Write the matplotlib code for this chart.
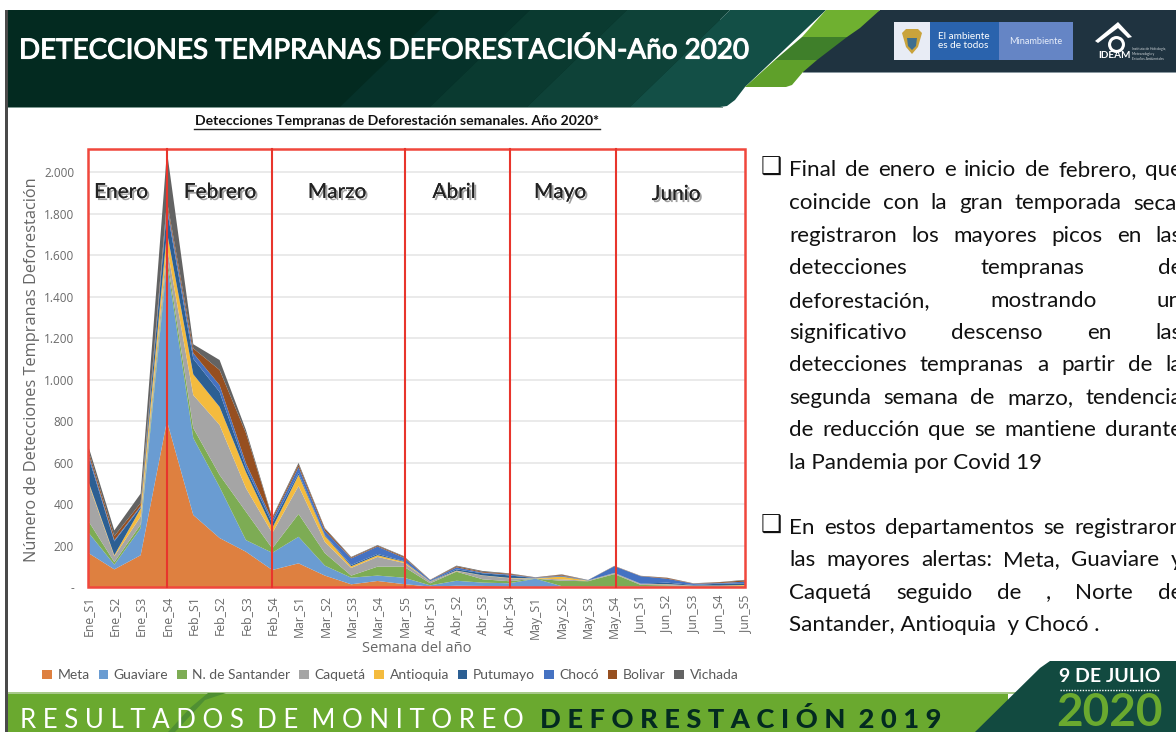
"""Detecciones tempranas de deforestacion, slide with stacked area chart."""

import matplotlib

matplotlib.use("Agg", force=True)
import matplotlib.patheffects as pe
import matplotlib.pyplot as plt
from matplotlib.patches import Polygon, Rectangle

weeks = [
    "Ene_S1", "Ene_S2", "Ene_S3", "Ene_S4",
    "Feb_S1", "Feb_S2", "Feb_S3", "Feb_S4",
    "Mar_S1", "Mar_S2", "Mar_S3", "Mar_S4", "Mar_S5",
    "Abr_S1", "Abr_S2", "Abr_S3", "Abr_S4",
    "May_S1", "May_S2", "May_S3", "May_S4",
    "Jun_S1", "Jun_S2", "Jun_S3", "Jun_S4", "Jun_S5",
]
meta = [165, 85, 153, 800, 347, 236, 170, 82, 114, 55, 13, 29, 14, 2, 6, 5, 3, 1, 2, 1, 2, 1, 1, 1, 1, 1]
guaviare = [100, 23, 130, 760, 371, 246, 56, 83, 128, 48, 32, 26, 31, 6, 24, 16, 15, 39, 2, 2, 1, 2, 1, 1, 1, 2]
santander = [56, 12, 17, 30, 48, 58, 137, 21, 110, 60, 10, 43, 53, 10, 44, 16, 10, 0, 26, 25, 59, 7, 6, 2, 2, 2]
caqueta = [185, 28, 40, 50, 159, 241, 114, 74, 135, 54, 37, 47, 18, 8, 3, 18, 14, 1, 7, 2, 4, 4, 5, 2, 1, 1]
antioquia = [8, 5, 38, 70, 100, 87, 77, 24, 53, 29, 8, 8, 6, 1, 2, 1, 2, 1, 13, 1, 1, 1, 1, 1, 2, 4]
putumayo = [121, 67, 7, 110, 75, 72, 21, 24, 9, 4, 6, 6, 3, 1, 6, 10, 12, 1, 3, 1, 1, 1, 7, 3, 9, 8]
choco = [15, 5, 5, 20, 27, 33, 22, 15, 29, 20, 32, 36, 16, 5, 10, 3, 4, 2, 2, 1, 32, 36, 19, 6, 3, 8]
bolivar = [15, 20, 15, 20, 23, 73, 145, 9, 12, 10, 4, 4, 5, 1, 5, 4, 4, 1, 4, 0, 1, 1, 4, 1, 4, 6]
vichada = [19, 28, 45, 240, 20, 48, 15, 5, 8, 4, 3, 3, 3, 1, 3, 4, 2, 1, 2, 1, 1, 1, 1, 1, 1, 3]

series = [meta, guaviare, santander, caqueta, antioquia, putumayo, choco, bolivar, vichada]
series_names = ["Meta", "Guaviare", "N. de Santander", "Caquetá", "Antioquia", "Putumayo", "Chocó", "Bolivar", "Vichada"]
series_colors = ["#de8040", "#6a9cd2", "#7dac54", "#a5a5a5", "#f4bb3e", "#2c5f93", "#4572c2", "#964f20", "#636363"]

y_ticks = [0, 200, 400, 600, 800, 1000, 1200, 1400, 1600, 1800, 2000]
y_labels = ["-", "200", "400", "600", "800", "1.000", "1.200", "1.400", "1.600", "1.800", "2.000"]

months = ["Enero", "Febrero", "Marzo", "Abril", "Mayo", "Junio"]
month_x = [121, 220, 337, 454, 560, 676]
month_y = [192, 192, 192, 192, 192, 194]
month_lines = [167, 272, 405, 510, 616]

para_one = [
    "Final de enero e inicio de febrero, que",
    "coincide con la gran temporada seca,",
    "registraron los mayores picos en las",
    "detecciones tempranas de",
    "deforestación, mostrando un",
    "significativo descenso en las",
    "detecciones tempranas a partir de la",
    "segunda semana de marzo, tendencia",
    "de reducción que se mantiene durante",
    "la Pandemia por Covid 19",
]
para_one_y = [170, 203, 236, 268, 301, 333, 365, 398, 430, 463]
para_two = [
    "En estos departamentos se registraron",
    "las mayores alertas: Meta, Guaviare y",
    "Caquetá seguido de , Norte de",
    "Santander, Antioquia  y Chocó .",
]
para_two_y = [528, 560, 593, 625]

W, H = 1176, 732
plt.rcParams["font.family"] = ["Lato", "DejaVu Sans"]
fig = plt.figure(figsize=(W / 100, H / 100), dpi=100, facecolor="white")


def canvas(zorder):
    ax = fig.add_axes([0, 0, 1, 1], zorder=zorder)
    ax.set_xlim(0, W)
    ax.set_ylim(H, 0)
    ax.axis("off")
    ax.patch.set_alpha(0)
    return ax


def poly(ax, points, color):
    ax.add_patch(Polygon(points, closed=True, facecolor=color, edgecolor="none"))


def justified(ax, line, y, left, right, size, justify=True):
    words = line.split()
    if not justify:
        ax.text(left, y, line, fontsize=size, color="#111111", va="center", ha="left")
        return
    items = [ax.text(left, y, word, fontsize=size, color="#111111", va="center", ha="left") for word in words]
    renderer = fig.canvas.get_renderer()
    widths = [item.get_window_extent(renderer).width for item in items]
    gap = (right - left - sum(widths)) / (len(words) - 1)
    x = left
    for item, width in zip(items, widths):
        item.set_x(x)
        x += width + gap


back = canvas(0)

# header, diagonal bands get lighter towards the right
back.add_patch(Rectangle((8, 10), 712, 97, facecolor="#032a20", edgecolor="none"))
poly(back, [(340, 107), (440, 10), (530, 10), (430, 107)], "#06322a")
poly(back, [(430, 107), (530, 10), (627, 10), (527, 107)], "#0a3a30")
poly(back, [(527, 107), (627, 10), (730, 10), (630, 107)], "#0e4238")
poly(back, [(630, 107), (730, 10), (826, 10), (745, 87), (735, 100), (727, 106), (720, 107)], "#134f46")
back.add_patch(Rectangle((5, 10), 3, 722, facecolor="#4a4a4a", edgecolor="none"))
back.add_patch(Rectangle((8, 107), 715, 1.2, facecolor="#7f9a92", edgecolor="none"))
poly(back, [(880, 10), (W, 10), (W, 72), (800, 72), (840, 37)], "#1f3340")
back.add_patch(Rectangle((803, 71.5), W - 803, 1, facecolor="#8a98a0", edgecolor="none"))
poly(back, [(826, 10), (880, 10), (860, 28), (847, 37), (802, 37)], "#6fb030")
poly(back, [(802, 37), (847, 37), (817, 60), (775, 60)], "#3f7f2a")
poly(back, [(775, 60), (817, 60), (803, 72), (792, 85), (786, 87), (745, 87)], "#5fa02a")

# footer
back.add_patch(Rectangle((8, 693), 1000, 39, facecolor="#6aa92f", edgecolor="none"))
back.add_patch(Rectangle((8, 692), 1050, 1.5, facecolor="#a8c98a", edgecolor="none"))
poly(back, [(175, 732), (205, 700), (226, 693), (208, 693), (190, 708), (168, 732)], "#4f8f33")
poly(back, [(1050, 661), (W, 661), (W, 732), (975, 732), (1040, 668)], "#124a40")

# logos
back.add_patch(Rectangle((894, 22), 36, 38, facecolor="#e8ecf5", edgecolor="none"))
back.add_patch(Rectangle((930, 22), 69, 38, facecolor="#2a63ad", edgecolor="none"))
back.add_patch(Rectangle((999, 22), 74, 38, facecolor="#6585c5", edgecolor="none"))
poly(back, [(902, 33), (906, 29), (918, 29), (922, 33), (918, 47), (912, 54), (906, 47)], "#c9a33c")
poly(back, [(907, 38), (917, 38), (916, 46), (912, 50), (908, 46)], "#3f6f8f")
back.text(938, 41, "El ambiente\nes de todos", color="white", fontsize=7.2, va="center", ha="left", linespacing=0.95)
back.text(1036, 42, "Minambiente", color="#e8eefa", fontsize=6.6, va="center", ha="center")
poly(back, [(1095, 41), (1118, 22), (1132, 37), (1128, 38), (1118, 28), (1098, 43)], "white")
back.plot([1116], [44], marker="o", ms=10, mfc="none", mec="white", mew=2.2)
back.text(1098, 55.5, "IDEAM", color="white", fontsize=7.2, fontweight="bold", va="center", ha="left")
back.text(1132, 54, "Instituto de Hidrología,\nMeteorología y\nEstudios Ambientales", color="#d0d6da", fontsize=2.4, va="center", ha="left")

# slide title
back.text(
    19, 50, "DETECCIONES TEMPRANAS DEFORESTACIÓN-Año 2020",
    color="white", fontsize=20, va="center", ha="left",
    path_effects=[pe.withStroke(linewidth=0.8, foreground="white")],
)

# chart
ax = fig.add_axes([88 / W, (H - 587) / H, 658 / W, 438 / H], zorder=1)
ax.patch.set_alpha(0)
x_pos = list(range(len(weeks)))
ax.stackplot(x_pos, series, colors=series_colors, labels=series_names, linewidth=0, zorder=2)
ax.set_xlim(0, len(weeks) - 1)
ax.set_ylim(0, 2111)
ax.set_yticks(y_ticks, y_labels)
ax.set_xticks(x_pos, weeks, rotation=90)
ax.tick_params(axis="y", length=0, pad=10, labelsize=8.5, labelcolor="#6a6a6a")
ax.tick_params(axis="x", length=0, pad=6, labelsize=8.8, labelcolor="#6a6a6a")
for label in ax.get_xticklabels() + ax.get_yticklabels():
    label.set_family(["Open Sans", "DejaVu Sans"])
ax.grid(axis="y", color="#e4e4e4", linewidth=1.1, zorder=0)
ax.set_axisbelow(True)
for spine in ax.spines.values():
    spine.set_visible(False)

legend = ax.legend(
    loc="center", bbox_to_anchor=(0.4595, -0.2015), ncol=9, frameon=False,
    fontsize=10, labelcolor="#595959", handlelength=0.7, handleheight=0.7,
    handletextpad=0.4, columnspacing=0.63, borderpad=0, borderaxespad=0,
)

front = canvas(2)
front.text(
    397, 121, "Detecciones Tempranas de Deforestación semanales. Año 2020*",
    fontsize=10.1, fontweight="bold", color="#111111", va="center", ha="center",
)
front.plot([194, 600], [129, 129], color="#222222", linewidth=1)
front.text(32, 370, "Número de Detecciones Tempranas Deforestación", rotation=90, fontsize=11.8,
           color="#666666", family=["Open Sans", "DejaVu Sans"], va="center", ha="center")
front.text(417, 649, "Semana del año", fontsize=10.5, color="#666666",
           family=["Open Sans", "DejaVu Sans"], va="center", ha="center")

# month boxes, the reference has them as red lines pasted over the chart
front.add_patch(Rectangle((88, 149), 657, 438, facecolor="none", edgecolor="#f0473c", linewidth=1.8))
for line_x in month_lines:
    front.plot([line_x, line_x], [149, 587], color="#e8352c", linewidth=1.5)
for name, name_x, name_y in zip(months, month_x, month_y):
    front.text(
        name_x, name_y, name, fontsize=15, color="#222222", va="center", ha="center",
        path_effects=[pe.withSimplePatchShadow(offset=(1.5, -1.5), shadow_rgbFace="#777777", alpha=0.7), pe.Normal()],
    )

# side text
LEFT, RIGHT = 789, 1182
for ys, lines in ((para_one_y, para_one), (para_two_y, para_two)):
    for i, (line, line_y) in enumerate(zip(lines, ys)):
        justified(front, line, line_y, LEFT, RIGHT, 16.1, justify=i < len(lines) - 1)
for bullet_y in (para_one_y[0], para_two_y[0]):
    front.text(771, bullet_y - 2, "❑", fontsize=17, fontweight="bold", color="#111111",
               family="DejaVu Sans", va="center", ha="center")

# footer text
front.text(20, 720, "R E S U L T A D O S  D E  M O N I T O R E O", color="white", fontsize=18.5,
           va="center", ha="left")
front.text(540, 720, "D E F O R E S T A C I Ó N  2 0 1 9", color="#032a20", fontsize=19.6,
           fontweight="black", va="center", ha="left")
front.text(1110, 677, "9 DE JULIO", color="white", fontsize=14, fontweight="bold", va="center", ha="center")
front.plot([1060, 1160], [690, 690], color="white", linewidth=1, linestyle=(0, (1, 1)))
front.text(1110, 713, "2020", color="#6aa92f", fontsize=33, fontweight="bold", va="center", ha="center")

fig.savefig("out.png", dpi=100)
plt.close(fig)
